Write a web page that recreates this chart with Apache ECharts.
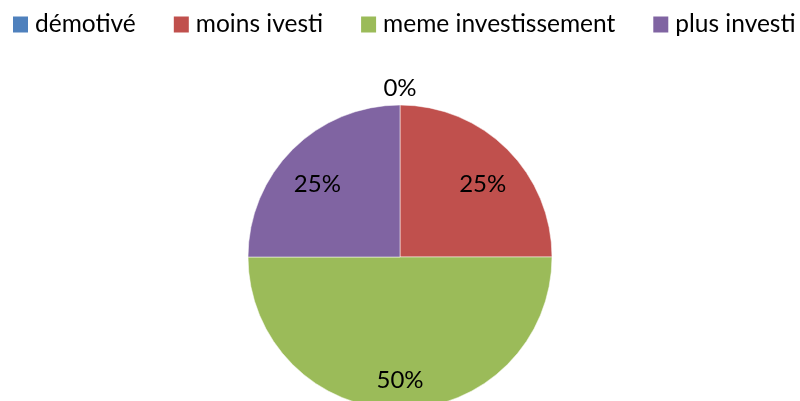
<!DOCTYPE html>
<html>
<head>
<meta charset="utf-8">
<script src="https://cdn.jsdelivr.net/npm/echarts@6/dist/echarts.min.js"></script>
<style>
  html, body { margin: 0; padding: 0; background: #fff; }
  #main { width: 800px; height: 401px; }
</style>
</head>
<body>
<div id="main"></div>
<script>
// categories and values
var categories = ['démotivé', 'moins ivesti', 'meme investissement', 'plus investi'];
var values = [0, 1, 2, 1];
var colors = ['#4f81bd', '#c0504d', '#9bbb59', '#8064a2'];

var pieCenter = [400, 257];
var pieRadius = 152;
var fontFamily = 'Lato, Calibri, sans-serif';
// how far each inside label is pushed out from the centre (x, y)
var labelPush = [[1, 2.14], [1.48, 1.3], [1, 1.56], [1.48, 1.3]];

var chart = echarts.init(document.getElementById('main'), null, { renderer: 'canvas' });

var seriesData = categories.map(function (name, i) {
  return { name: name, value: values[i], itemStyle: { color: colors[i] } };
});

var option = {
  backgroundColor: '#fff',
  animation: false,
  legend: {
    left: 13,
    top: 12,
    width: 787,
    padding: 0,
    icon: 'rect',
    itemWidth: 15,
    itemHeight: 16,
    itemGap: 38,
    itemStyle: { borderWidth: 0 },
    textStyle: {
      fontFamily: fontFamily,
      fontSize: 24.5,
      color: '#000',
      padding: [0, 0, 0, 2]
    },
    data: categories
  },
  series: [{
    type: 'pie',
    center: pieCenter,
    radius: [0, pieRadius],
    startAngle: 90,
    clockwise: true,
    stillShowZeroSum: true,
    minShowLabelAngle: -1,
    itemStyle: {
      borderColor: 'rgba(255,255,255,0.5)',
      borderWidth: 1
    },
    label: {
      show: true,
      position: 'inside',
      formatter: '{d}%',
      fontFamily: fontFamily,
      fontSize: 24,
      color: '#000'
    },
    labelLine: { show: false },
    labelLayout: function (p) {
      var r = p.labelRect;
      var lx = r.x + r.width / 2;
      var ly = r.y + r.height / 2;
      var k = labelPush[p.dataIndex];
      return {
        x: pieCenter[0] + k[0] * (lx - pieCenter[0]),
        y: pieCenter[1] + k[1] * (ly - pieCenter[1])
      };
    },
    emphasis: { disabled: true },
    data: seriesData
  }]
};

chart.setOption(option);
</script>
</body>
</html>
